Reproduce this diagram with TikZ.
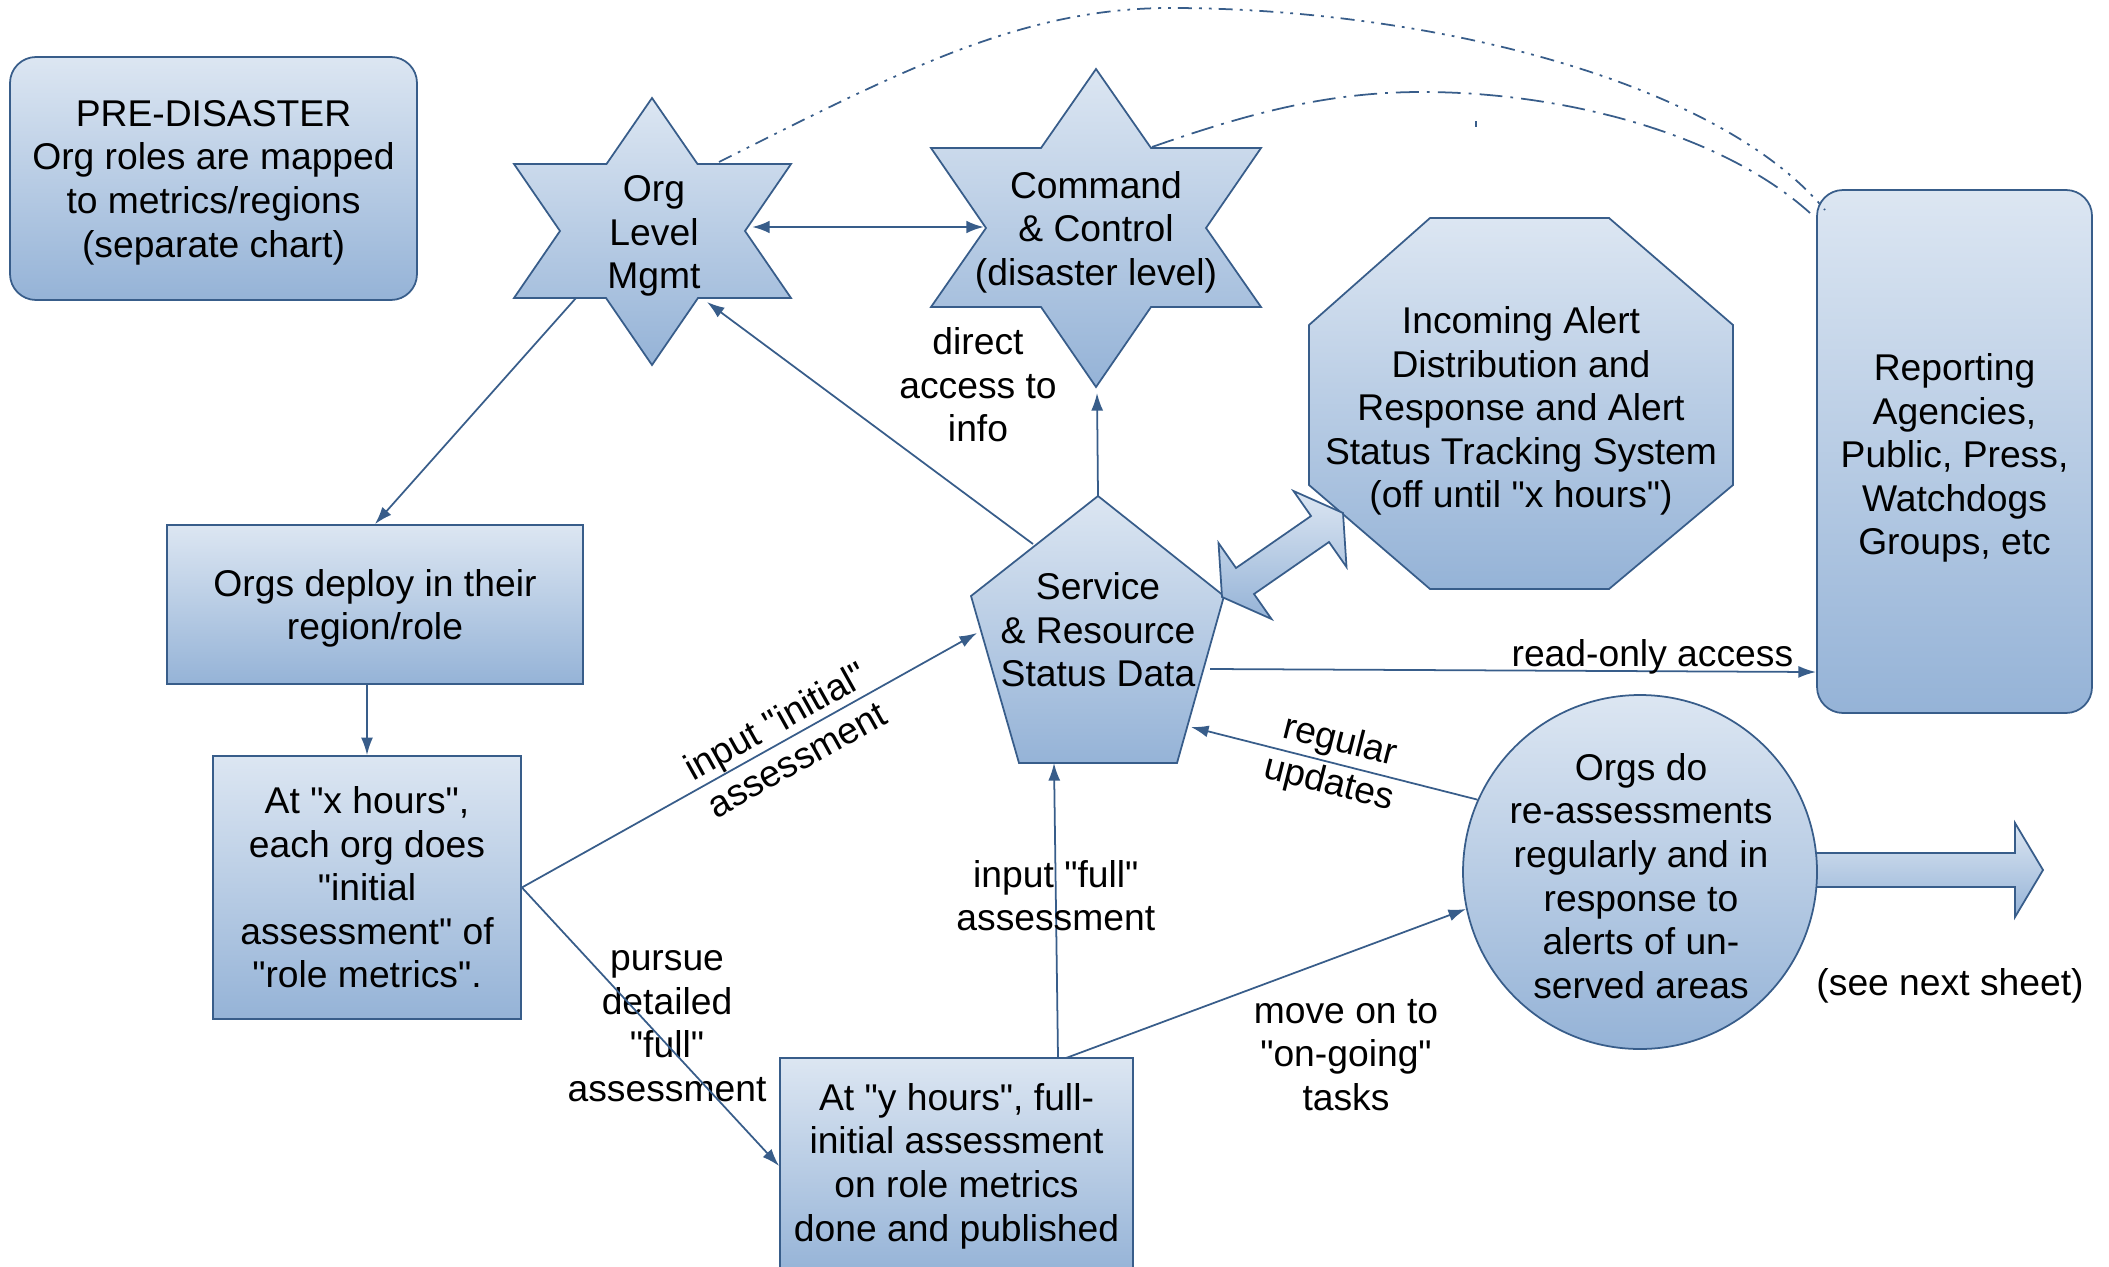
\documentclass[tikz,border=0pt]{standalone}
\usepackage{fontspec}
\setmainfont{Liberation Sans}[Ligatures=TeXOff]
\usetikzlibrary{arrows.meta}
\usetikzlibrary{calc}

\definecolor{shadetop}{RGB}{220,230,242}
\definecolor{shadebot}{RGB}{149,179,215}
\definecolor{linkblue}{RGB}{56,93,138}

\tikzset{
	blueshade/.style={draw=linkblue, line width=0.5pt, top color=shadetop, bottom color=shadebot},
	box/.style={blueshade, rectangle, align=center},
	roundbox/.style={box, rounded corners=2.6mm},
	txt/.style={align=center, inner sep=1pt},
	link/.style={draw=linkblue, line width=0.5pt, -{Latex[length=5pt,width=3.4pt]}},
	twoway/.style={draw=linkblue, line width=0.7pt, {Latex[length=5pt,width=3.6pt]}-{Latex[length=5pt,width=3.6pt]}},
	nearlink/.style={draw=linkblue, line width=0.5pt, dash pattern=on 6.5pt off 2.3pt on 0.8pt off 2.3pt},
	farlink/.style={draw=linkblue, line width=0.5pt, dash pattern=on 4pt off 2pt on 0.8pt off 2pt on 0.8pt off 2pt}
}

\begin{document}
\begin{tikzpicture}[x=0.1mm, y=-0.1mm, font=\fontsize{10.6}{12.4}\selectfont]
	\useasboundingbox (0,0) rectangle (2109,1266);
	% stars, octagon, pentagon and block arrows
	\draw[blueshade] (652,98) -- (697.5,164) -- (791,164) -- (745,231) -- (791,298) -- (698,298) -- (652,365) -- (606,298) -- (514,298) -- (560,231) -- (514,164) -- (606.5,164) -- cycle;
	\draw[blueshade] (1096,69) -- (1151,148) -- (1261,148) -- (1206,228) -- (1261,307) -- (1151,307) -- (1096,387) -- (1041,307) -- (931,307) -- (986,228) -- (931,148) -- (1041,148) -- cycle;
	\draw[blueshade] (1430,218) -- (1609,218) -- (1733,325) -- (1733,485) -- (1609,589) -- (1430,589) -- (1309,485) -- (1309,325) -- cycle;
	\draw[blueshade] (1098,496) -- (1224,596) -- (1177,763) -- (1019,763) -- (971,596) -- cycle;
	\draw[blueshade] (1222,597) -- (1218.5,543) -- (1236,568) -- (1311,516) -- (1293.5,491) -- (1343,513) -- (1346.5,567) -- (1329,542) -- (1254,594) -- (1271.5,619) -- cycle;
	\draw[blueshade] (1800,853) -- (2015,853) -- (2015,823) -- (2043,870) -- (2015,917) -- (2015,887) -- (1800,887) -- cycle;

	% boxes
	\node[roundbox, minimum width=40.7mm, minimum height=24.3mm] (pre) at (213.5,178.5) {};
	\node[txt] (pretext) at (213.5,182.5) {PRE-DISASTER\\Org roles are mapped\\to metrics/regions\\(separate chart)};
	\node[box, minimum width=41.6mm, minimum height=15.9mm] (deploy) at (375,604.5) {};
	\node[txt] (deploytext) at (375,608.5) {Orgs deploy in their\\region/role};
	\node[box, minimum width=30.8mm, minimum height=26.3mm] (xhours) at (367,887.5) {At "x hours",\\each org does\\"initial\\assessment" of\\"role metrics".};
	\node[box, minimum width=35.3mm, minimum height=21.6mm] (yhours) at (956.5,1166) {At "y hours", full-\\initial assessment\\on role metrics\\done and published};
	\node[roundbox, minimum width=27.5mm, minimum height=52.3mm] (report) at (1954.5,451.5) {};
	\node[txt] (reporttext) at (1954.5,458) {Reporting\\Agencies,\\Public, Press,\\Watchdogs\\Groups, etc};
	\node[blueshade, circle, minimum size=35.4mm] (reassess) at (1640,872) {};
	\node[txt] (reassesstext) at (1641,876) {Orgs do\\re-assessments\\regularly and in\\response to\\alerts of un-\\served areas};

	% texts on the drawn shapes
	\node[txt] (orgmgmt) at (654,236) {Org\\Level\\Mgmt};
	\node[txt] (command) at (1096,232) {Command\\\& Control\\(disaster level)};
	\node[txt] (alert) at (1521,411) {Incoming Alert\\Distribution and\\Response and Alert\\Status Tracking System\\(off until "x hours")};
	\node[txt] (service) at (1098,630) {Service\\\& Resource\\Status Data};
	\node[txt] (nextsheet) at (1950,986) {(see next sheet)};
	\node[txt] (direct) at (978,385) {direct\\access to\\info};
	\node[txt] (pursue) at (667,1026) {pursue\\detailed\\"full"\\assessment};
	\node[txt] (moveon) at (1346,1055) {move on to\\"on-going"\\tasks};

	% attach points
	\coordinate (org-sw) at (576,298);
	\coordinate (org-se) at (707,302);
	\coordinate (org-e) at (752,227);
	\coordinate (org-ne) at (719,162);
	\coordinate (cmd-w) at (984,227);
	\coordinate (cmd-s) at (1097,393);
	\coordinate (cmd-ne) at (1152,147);
	\coordinate (svc-n) at (1098,496);
	\coordinate (svc-nw) at (1033,544);
	\coordinate (svc-w) at (977,633);
	\coordinate (svc-s) at (1054,763);
	\coordinate (svc-se) at (1191,727);
	\coordinate (svc-e) at (1210,669);
	\coordinate (rep-w) at (1816,672);
	\coordinate (rep-nw1) at (1825,210);
	\coordinate (rep-nw2) at (1810,213);
	\coordinate (y-n1) at (1058,1058);
	\coordinate (y-n2) at (1066,1058);

	% connectors
	\draw[twoway] (org-e) -- (cmd-w);
	\draw[link] (org-sw) -- (deploy.north);
	\draw[link] (xhours.north |- deploy.south) -- (xhours.north);
	\draw[link] (xhours.east) -- (svc-w) node[txt, sloped, pos=0.58] (initial) {input "initial"\\assessment};
	\draw[link] (xhours.east) -- (yhours.west);
	\draw[link] (y-n1) -- (svc-s) node[txt, pos=0.55] (fullin) {input "full"\\assessment};
	\draw[link] (y-n2) -- (reassess.192);
	\draw[link] (reassess.156) -- (svc-se) node[txt, sloped, pos=0.5] (updates) {regular\\updates};
	\draw[link] (svc-nw) -- (org-se);
	\draw[link] (svc-n) -- (cmd-s);
	\draw[link] (svc-e) -- (rep-w) node[pos=0.73, anchor=base, inner sep=0pt, yshift=1.2pt] (readonly) {read-only access};

	% dash-dot links to the reporting box
	\draw[farlink] (org-ne) .. controls (899,72) and (1020,8) .. (1170,8) .. controls (1420,8) and (1715,78) .. (rep-nw1);
	\draw[nearlink] (cmd-ne) .. controls (1252,112) and (1330,92) .. (1422,92) .. controls (1560,92) and (1720,132) .. (rep-nw2);
	\draw[draw=linkblue, line width=0.5pt] (1476,121) -- (1476,127);
\end{tikzpicture}
\end{document}
